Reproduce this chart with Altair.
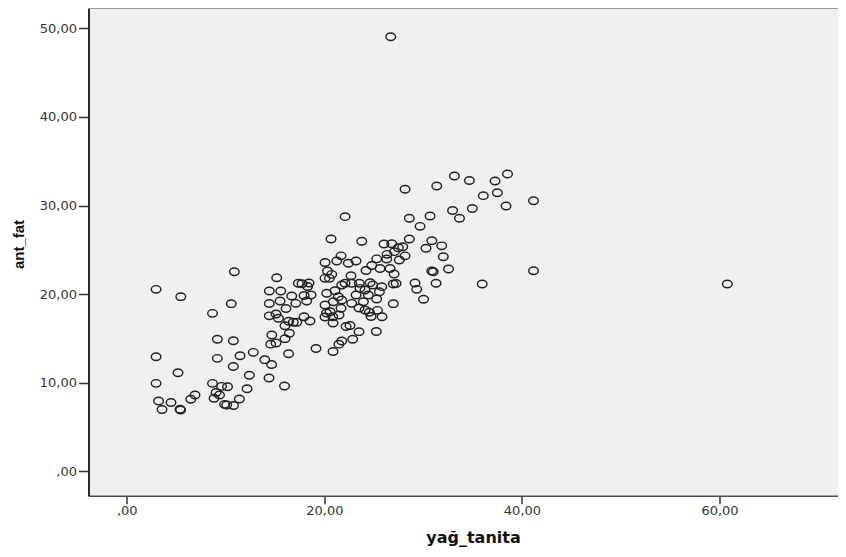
import altair as alt
import pandas as pd

# yağ_tanita (x) and ant_fat (y) values
yag_tanita = [
    2.97, 5.47, 2.97, 2.97, 5.19, 3.22, 3.57, 4.48, 5.39, 5.45, 6.48, 6.91, 8.68, 9.04, 9.39, 8.84,
    9.6, 10.2, 9.9, 10.12, 10.81, 11.4, 12.18, 12.41, 10.79, 9.17, 11.47, 12.81, 13.97, 14.66, 9.17,
    10.79, 8.68, 10.58, 10.89, 14.4, 15.97, 16.38, 14.43, 15.59, 15.18, 14.43, 15.52, 14.43, 15.11,
    15.36, 16.12, 14.68, 14.57, 15.11, 16.02, 16.46, 16.02, 16.4, 16.86, 17.21, 16.7, 17.11, 17.37,
    17.74, 18.45, 18.3, 17.95, 18.65, 18.22, 17.95, 18.55, 19.16, 20.88, 21.47, 21.76, 22.87, 23.51,
    25.26, 22.2, 22.6, 20.88, 20.07, 20.22, 20.85, 21.49, 21.69, 22.77, 23.51, 24.12, 24.55, 24.73,
    25.38, 25.84, 26.98, 25.3, 25.57, 25.81, 24.63, 24.9, 23.54, 22.77, 22.1, 21.76, 22.7, 23.21,
    23.61, 24.12, 24.45, 23.95, 20.24, 21.08, 21.42, 21.76, 20.91, 20.07, 20.58, 20.07, 20.32, 20.07,
    20.51, 20.75, 21.26, 21.69, 22.43, 23.21, 24.22, 24.8, 25.3, 25.64, 26.35, 26.32, 26.65, 27.09,
    27.59, 28.17, 26.04, 26.82, 27.49, 27.94, 28.6, 27.06, 26.98, 27.26, 20.68, 22.1, 23.79,
    28.17, 31.38, 33.16, 34.68, 37.28, 38.54, 36.09, 37.51, 41.17, 38.39, 32.98, 33.68, 34.98, 28.6,
    30.7, 29.69, 30.88, 31.88, 30.29, 32.04, 32.57, 30.87, 31.03, 41.17, 29.18, 29.35, 31.31, 30.04,
    35.98, 60.79, 26.72,
]
ant_fat = [
    20.54, 19.71, 12.93, 9.93, 11.13, 7.93, 6.98, 7.77, 7.0, 6.92, 8.13, 8.61, 9.93, 8.89, 8.61, 8.24,
    9.59, 9.55, 7.56, 7.48, 7.43, 8.16, 9.32, 10.84, 11.83, 12.75, 13.05, 13.43, 12.6, 12.05, 14.91,
    14.73, 17.83, 18.92, 22.53, 10.53, 9.63, 13.27, 20.35, 20.35, 21.85, 18.94, 19.22, 17.55, 17.75,
    17.27, 18.37, 15.38, 14.35, 14.48, 14.97, 15.58, 16.43, 16.93, 16.82, 16.82, 19.79, 18.96, 21.22,
    21.17, 21.25, 20.86, 19.84, 19.9, 19.22, 17.45, 16.96, 13.86, 13.52, 14.35, 14.71, 14.91, 15.76,
    15.78, 16.34, 16.46, 16.74, 17.42, 17.87, 17.45, 17.64, 18.4, 18.96, 18.43, 18.21, 17.95, 17.47,
    18.17, 17.45, 18.92, 19.45, 20.27, 20.84, 21.29, 21.03, 21.22, 21.22, 21.22, 21.03, 22.08, 19.9,
    20.65, 20.46, 19.9, 19.14, 20.09, 20.38, 19.71, 19.33, 19.14, 18.77, 18.01, 23.57, 22.61, 21.78,
    21.78, 22.23, 23.74, 24.32, 23.48, 23.74, 22.66, 23.23, 23.98, 22.89, 24.49, 23.96, 22.89, 24.79,
    23.85, 24.32, 25.65, 25.69, 25.24, 25.35, 26.22, 22.27, 21.14, 21.2, 26.22, 28.74, 25.96,
    31.83, 32.2, 33.33, 32.82, 32.77, 33.56, 31.11, 31.44, 30.54, 29.94, 29.44, 28.56, 29.66, 28.56,
    28.81, 27.65, 26.03, 25.45, 25.17, 24.22, 22.83, 22.61, 22.53, 22.64, 21.25, 20.54, 21.22, 19.42,
    21.14, 21.14, 49.05,
]

x_ticks = [0, 20, 40, 60]
y_ticks = [0, 10, 20, 30, 40, 50]

df = pd.DataFrame({"yag_tanita": yag_tanita, "ant_fat": ant_fat})

ellipse = "M-1,0A1,0.78,0,1,0,1,0A1,0.78,0,1,0,-1,0Z"
label_expr = "datum.value == 0 ? ',00' : replace(format(datum.value, '.2f'), '.', ',')"

W = 749.5
H = 487.7

points = (
    alt.Chart(df)
    .mark_point(shape=ellipse, size=92, filled=False, stroke="#1f1f1f", strokeWidth=1.4, opacity=1)
    .encode(
        x=alt.X(
            "yag_tanita:Q",
            scale=alt.Scale(domain=[-3.87, 71.99], nice=False, zero=False),
            axis=alt.Axis(
                values=x_ticks, labelExpr=label_expr, title="yağ_tanita", grid=False,
                domainColor="#4a4a4a", domainWidth=1.6, tickColor="#333333", tickWidth=1.5,
                tickSize=8, labelPadding=1, labelFont="DejaVu Sans", labelFontSize=13,
                labelColor="#333333", titleFont="DejaVu Sans", titleFontSize=16,
                titleFontWeight="bold", titleColor="#111111", titleX=384.5, titleY=47,
                titleBaseline="alphabetic", titleAlign="center",
            ),
        ),
        y=alt.Y(
            "ant_fat:Q",
            scale=alt.Scale(domain=[-2.75, 52.29], nice=False, zero=False),
            axis=alt.Axis(
                values=y_ticks, labelExpr=label_expr, title="ant_fat", grid=False,
                domainColor="#2a2a2a", domainWidth=2, tickColor="#333333", tickWidth=1.5,
                tickSize=10, labelPadding=2, labelFont="DejaVu Sans", labelFontSize=13,
                labelColor="#333333", titleFont="Liberation Sans", titleFontSize=15,
                titleFontWeight="bold", titleColor="#111111", titleX=-70.2, titleY=236,
                titleBaseline="middle", titleAlign="center", titleAngle=270,
            ),
        ),
    )
)

top_border = alt.Chart(df).mark_rule(color="#9a9a9a", strokeWidth=2).encode(
    x=alt.value(0), x2=alt.value(W), y=alt.value(0)
)

chart = (
    alt.layer(points, top_border)
    .properties(
        width=W,
        height=H,
        autosize=alt.AutoSizeParams(type="none"),
        padding={"left": 80.5, "top": 0, "right": 0, "bottom": 53},
        background="white",
    )
    .configure_view(fill="#f0f0f0", strokeWidth=0)
)

chart.save("out.html", embed_options={"renderer": "svg", "actions": False})
